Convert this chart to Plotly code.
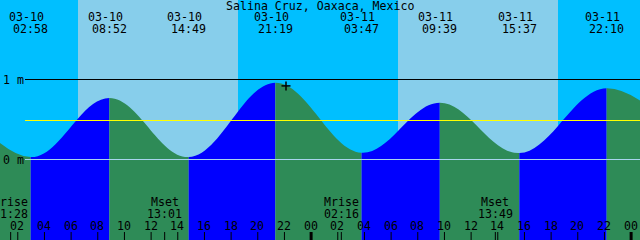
import pandas as pd
import plotly.graph_objects as go

# ---------------- data ----------------
title = "Salina Cruz, Oaxaca, Mexico"
base_time = pd.Timestamp("2024-03-10 00:00")
view_start = "2024-03-10 00:40"
view_end = "2024-03-12 00:40"

# tide extremes (first and last lie outside the visible window)
tide_times = ["2024-03-09 20:40", "2024-03-10 02:58", "2024-03-10 08:52",
              "2024-03-10 14:49", "2024-03-10 21:19", "2024-03-11 03:47",
              "2024-03-11 09:39", "2024-03-11 15:37", "2024-03-11 22:10",
              "2024-03-12 04:40"]
tide_heights = [0.95, 0.03, 0.77, 0.03, 0.96, 0.085, 0.71, 0.08, 0.89, 0.13]

sun_times = ["2024-03-10 06:30", "2024-03-10 18:31",
             "2024-03-11 06:30", "2024-03-11 18:30"]
sky_colors = ["#00BFFF", "#87CEEB", "#00BFFF", "#87CEEB", "#00BFFF"]  # night, day, ...

moon_names = ["Mrise", "Mset", "Mrise", "Mset"]
moon_times = ["2024-03-10 01:28", "2024-03-10 13:01",
              "2024-03-11 02:16", "2024-03-11 13:49"]

now_time = "2024-03-10 22:07"
now_height = 0.92

datum_levels = [1, 0]
datum_labels = ["1 m", "0 m"]
datum_colors = ["#000000", "#A8D4EE"]
msl_level = 0.4875

tick_times = list(pd.date_range("2024-03-10 02:00", "2024-03-12 00:00", freq="2h"))
tick_labels = [t.strftime("%H") for t in tick_times]

FLOOD = "#0000FF"
EBB = "#2E8B57"
FONT = dict(family="DejaVu Sans Mono", size=11.6, color="black")

# ---------------- helpers ----------------
W, H = 640, 240
Y_TOP, Y_BOT = 1.99375, -1.00625


def hrs(s):
    return (pd.Timestamp(s) - base_time) / pd.Timedelta(hours=1)


def pyp(py):  # pixel row -> paper fraction
    return 1 - py / H


X0, X1 = hrs(view_start), hrs(view_end)
scale = W / (X1 - X0)
tide_h = [hrs(t) for t in tide_times]

fig = go.Figure()
layout_axes = {}
shapes = []
annotations = []

# water colour bands (rising = flood blue, falling = ebb green)
for i in range(len(tide_h) - 1):
    col = FLOOD if tide_heights[i + 1] > tide_heights[i] else EBB
    shapes.append(dict(type="rect", xref="x", yref="y", x0=tide_h[i], x1=tide_h[i + 1],
                       y0=Y_BOT - 1, y1=Y_TOP + 1, fillcolor=col, line=dict(width=0),
                       layer="below"))

# sky above the tide curve, one sub-axis per day/night period
bounds = [X0] + [hrs(t) for t in sun_times] + [X1]
for k in range(len(bounds) - 1):
    n = k + 2
    pa = round((bounds[k] - X0) * scale)
    pb = round((bounds[k + 1] - X0) * scale)
    layout_axes[f"xaxis{n}"] = dict(domain=[pa / W, pb / W],
                                    range=[X0 + pa / scale, X0 + pb / scale],
                                    anchor="y", visible=False)
    fig.add_trace(go.Scatter(x=[tide_h[0], tide_h[-1]], y=[Y_TOP + 1, Y_TOP + 1],
                             xaxis=f"x{n}", yaxis="y", mode="lines",
                             line=dict(width=0), hoverinfo="skip"))
    fig.add_trace(go.Scatter(x=tide_h, y=tide_heights, xaxis=f"x{n}", yaxis="y",
                             mode="lines", line=dict(width=0, shape="spline", smoothing=1.1),
                             fill="tonexty", fillcolor=sky_colors[k], hoverinfo="skip"))

# datum lines & labels
for lvl, lab, col in zip(datum_levels, datum_labels, datum_colors):
    shapes.append(dict(type="line", xref="paper", yref="y", x0=25 / W, x1=1,
                       y0=lvl, y1=lvl, line=dict(color=col, width=1)))
    annotations.append(dict(xref="paper", yref="y", x=0, y=lvl, xanchor="left",
                            yanchor="middle", xshift=1, text=lab, showarrow=False, font=FONT))
shapes.append(dict(type="line", xref="paper", yref="y", x0=25 / W, x1=1,
                   y0=msl_level, y1=msl_level, line=dict(color="#FFFF00", width=1)))

# title
annotations.append(dict(xref="paper", yref="paper", x=0.5, y=pyp(6), text=title,
                        showarrow=False, xanchor="center", yanchor="middle", font=FONT))

# tide extreme labels
for t, th in zip(tide_times, tide_h):
    if X0 <= th <= X1:
        ts = pd.Timestamp(t)
        annotations.append(dict(xref="x", yref="paper", x=th, y=pyp(17.5), xshift=-4,
                                text=ts.strftime("%m-%d"), showarrow=False,
                                xanchor="center", yanchor="middle", font=FONT))
        annotations.append(dict(xref="x", yref="paper", x=th, y=pyp(29),
                                text=ts.strftime("%H:%M"), showarrow=False,
                                xanchor="center", yanchor="middle", font=FONT))

# hour ticks
for t, lab in zip(tick_times, tick_labels):
    th = hrs(t)
    wid = 3 if lab == "00" else 1
    shapes.append(dict(type="line", xref="x", yref="paper", x0=th, x1=th,
                       y0=0, y1=8 / H, line=dict(color="black", width=wid)))
    annotations.append(dict(xref="x", yref="paper", x=th, y=pyp(225.5), xshift=-0.5,
                            text=lab, showarrow=False, xanchor="center",
                            yanchor="middle", font=FONT))

# moon events
for name, t in zip(moon_names, moon_times):
    th = hrs(t)
    shapes.append(dict(type="line", xref="x", yref="paper", x0=th, x1=th,
                       y0=0, y1=8 / H, line=dict(color="black", width=1)))
    annotations.append(dict(xref="x", yref="paper", x=th, y=pyp(202), text=name,
                            showarrow=False, xanchor="center", yanchor="middle", font=FONT))
    annotations.append(dict(xref="x", yref="paper", x=th, y=pyp(213.5),
                            text=pd.Timestamp(t).strftime("%H:%M"), showarrow=False,
                            xanchor="center", yanchor="middle", font=FONT))

# current-time cross
nx = hrs(now_time)
shapes.append(dict(type="line", xref="x", yref="y", xsizemode="pixel", xanchor=nx,
                   x0=-4.5, x1=4.5, y0=now_height, y1=now_height,
                   line=dict(color="black", width=1.5)))
shapes.append(dict(type="line", xref="x", yref="y", ysizemode="pixel", yanchor=now_height,
                   x0=nx, x1=nx, y0=-4.5, y1=4.5, line=dict(color="black", width=1.5)))

fig.update_layout(
    width=W, height=H, margin=dict(l=0, r=0, t=0, b=0, pad=0),
    paper_bgcolor="#87CEEB", plot_bgcolor="rgba(0,0,0,0)", showlegend=False,
    xaxis=dict(range=[X0, X1], domain=[0, 1], visible=False),
    yaxis=dict(range=[Y_BOT, Y_TOP], domain=[0, 1], visible=False),
    shapes=shapes, annotations=annotations, **layout_axes,
)

fig.write_html("out.html", config=dict(displayModeBar=False))
